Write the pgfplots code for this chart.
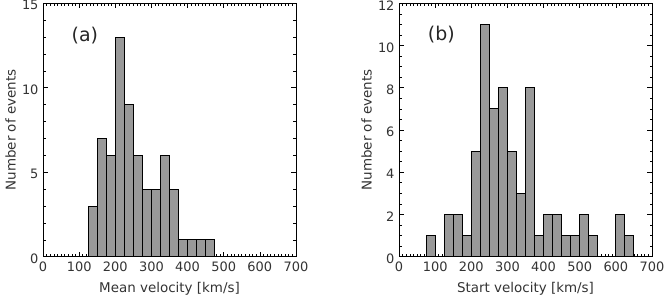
\documentclass[border=0pt]{standalone}
\usepackage{fontspec}
\setmainfont{DejaVu Sans}
\usepackage{pgfplots}
\pgfplotsset{compat=1.18}
\definecolor{barfill}{RGB}{153,153,153}
\begin{document}
\begin{tikzpicture}
\pgfplotsset{
  myaxis/.style={
    scale only axis, width=253bp, height=253.4bp,
    xmin=0, xmax=700, xtick={0,100,...,700}, minor x tick num=9,
    ymin=0,
    tick align=inside,
    major tick length=5bp, minor tick length=2.5bp,
    axis line style={line width=0.7pt},
    every tick/.style={line width=0.6pt, black},
    /pgf/number format/assume math mode=true,
    ticklabel style={font=\fontsize{13}{15}\selectfont, text=black!80},
    xticklabel style={yshift=-2bp},
    yticklabel style={xshift=-1bp, yshift=-2bp},
    label style={font=\fontsize{13.5}{15}\selectfont, text=black!80},
    xlabel style={at={(axis description cs:0.5,-0.128)}, anchor=center},
    ylabel style={at={(axis description cs:-0.128,0.5)}, anchor=center, rotate=0},
    ylabel={Number of events},
  },
  mybar/.style={ybar interval, fill=barfill, draw=black, line width=1pt},
}
\begin{axis}[myaxis, ymax=15, ytick={0,5,10,15}, minor y tick num=4,
  xlabel={Mean velocity [km/s]}]
\addplot[mybar] coordinates {
 (125,3) (150,7) (175,6) (200,13) (225,9) (250,6) (275,4) (300,4)
 (325,6) (350,4) (375,1) (400,1) (425,1) (450,1) (475,1)};
\node[font=\fontsize{19}{22}\selectfont, text=black!85] at (axis cs:116,13.1) {(a)};
\end{axis}
\begin{axis}[myaxis, xshift=356bp, ymax=12, ytick={0,2,...,12}, minor y tick num=3,
  xlabel={Start velocity [km/s]}]
\addplot[mybar] coordinates {
 (75,1) (100,0) (125,2) (150,2) (175,1) (200,5) (225,11) (250,7)
 (275,8) (300,5) (325,3) (350,8) (375,1) (400,2) (425,2) (450,1)
 (475,1) (500,2) (525,1) (550,0) (575,0) (600,2) (625,1) (650,1)};
\node[font=\fontsize{19}{22}\selectfont, text=black!85] at (axis cs:117,10.5) {(b)};
\end{axis}
\pgfresetboundingbox
\path[use as bounding box] (-43bp,-42.3bp) rectangle (622bp,256.7bp);
\end{tikzpicture}
\end{document}
